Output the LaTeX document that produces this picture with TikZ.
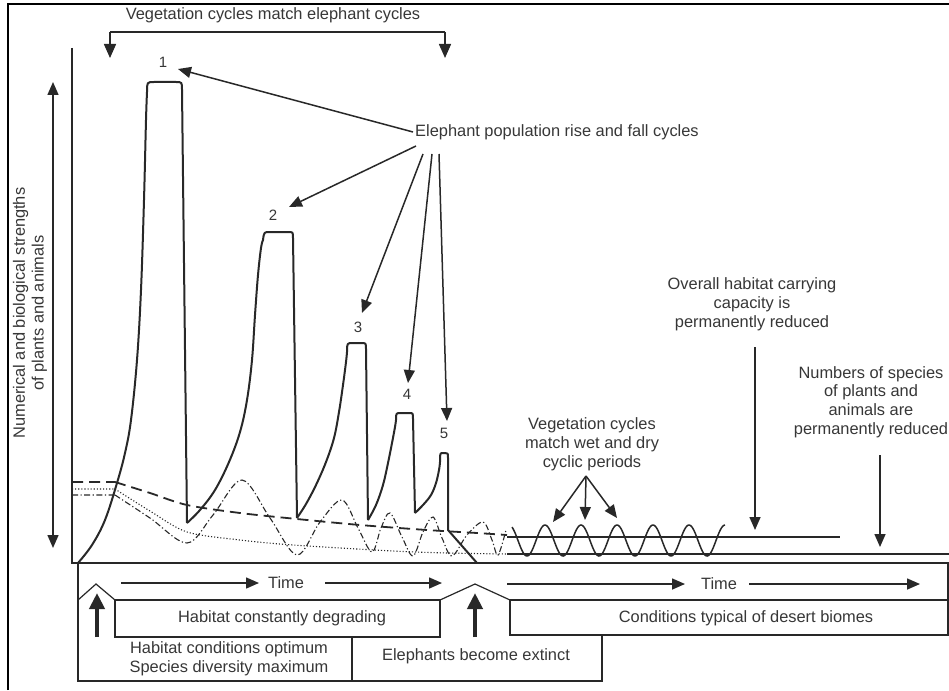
\documentclass[tikz,border=0pt]{standalone}
\usepackage{fontspec}
\setmainfont{Liberation Sans}
\usetikzlibrary{arrows.meta}
\definecolor{ink}{RGB}{40,40,40}
\definecolor{txt}{RGB}{55,55,55}
\begin{document}
\begin{tikzpicture}[x=1pt,y=-1pt,
  lbl/.style={font=\fontsize{16.4}{18.8}\selectfont, text=txt, inner sep=0pt, align=center},
  num/.style={font=\fontsize{15}{18}\selectfont, text=txt, inner sep=0pt},
  curve/.style={draw=ink, line width=2pt, line join=round},
  arr/.style={draw=ink, line width=1.5pt, -{Triangle[length=13pt,width=11pt]}},
  brk/.style={draw=ink, line width=1.5pt},
  boxline/.style={draw=ink, line width=1.2pt},
  bigarr/.style={draw=ink, line width=4pt, -{Triangle[length=16pt,width=15pt]}},
]
\useasboundingbox (0,0) rectangle (949,690);
\fill[white] (0,0) rectangle (949,690);
% scan frame
\draw[black, line width=2pt] (8,690) -- (8,4) -- (949,4);

% top bracket
\node[lbl] (vct) at (273,15) {Vegetation cycles match elephant cycles};
\coordinate (bl) at (110,32);
\coordinate (br) at (445,32);
\coordinate (blt) at (110,58);
\coordinate (brt) at (445,58);
\draw[brk] (bl) -- (br);
\draw[brk, -{Triangle[length=14pt,width=12pt]}] (bl) -- (blt);
\draw[brk, -{Triangle[length=14pt,width=12pt]}] (br) -- (brt);

% axes
\coordinate (ytop) at (72,48);
\coordinate (orig) at (72,563);
\coordinate (xend) at (949,563);
\draw[ink, line width=1.8pt] (ytop) -- (orig) -- (xend);
\coordinate (ya) at (53,82);
\coordinate (yb) at (53,548);
\draw[ink, line width=1.4pt, {Triangle[length=13pt,width=11pt]}-{Triangle[length=13pt,width=11pt]}] (ya) -- (yb);
\node[lbl, rotate=90] (ylab) at (30,313) {Numerical and biological strengths\\of plants and animals};

% elephant peaks
\draw[curve] plot[smooth, tension=0.6] coordinates {(78,563) (92,545) (105,520) (117,483) (125,453) (131,420) (137,360) (141,290) (144,200) (146,120) (147,92)}
  .. controls (147,82) .. (154,82) -- (176,82) .. controls (182,82) .. (182,90) -- (187,523);
\draw[curve] plot[smooth, tension=0.6] coordinates {(187,523) (200,510) (215,490) (229,462) (240,432) (247,400) (252,360) (255,315) (258,275) (261,248) (263,240)}
  .. controls (264,232) .. (270,232) -- (288,232) .. controls (293,232) .. (293,238) -- (297,518);
\draw[curve] plot[smooth, tension=0.6] coordinates {(297,518) (306,504) (316,485) (326,462) (334,438) (339,412) (343,385) (346,362) (347,352)}
  .. controls (347,343) .. (353,343) -- (361,343) .. controls (366,343) .. (366,349) -- (368,520);
\draw[curve] plot[smooth, tension=0.6] coordinates {(368,520) (376,505) (383,485) (388,463) (392,443) (395,427) (396,420)}
  .. controls (396,413) .. (401,413) -- (409,413) .. controls (413,413) .. (413,419) -- (415,513);
\draw[curve] plot[smooth, tension=0.6] coordinates {(415,513) (423,505) (431,495) (436,483) (439,470) (440,462)}
  .. controls (440,453) .. (443,453) -- (445,453) .. controls (448,453) .. (448,458) -- (448,530) -- (477,563);

% carrying capacity (dashed) then solid
\draw[ink, line width=1.8pt, dash pattern=on 11pt off 6pt] (72,482) -- (115,482) plot[smooth, tension=0.5] coordinates {(115,482) (150,493) (187,505) (240,513) (297,519) (360,525) (427,530) (477,533) (507,535)};
\draw[ink, line width=1.5pt] (507,537) -- (840,537);
% species diversity (dotted) then solid
\draw[ink, line width=1.1pt, dotted] (72,489) -- (115,489) plot[smooth, tension=0.5] coordinates {(115,489) (150,511) (187,532) (240,540) (293,545) (393,551) (448,553) (507,554)};
\draw[ink, line width=1.5pt] (507,554) -- (949,554);
% vegetation (dash-dot)
\draw[ink, line width=1.1pt, dash pattern=on 6pt off 2.5pt on 1.2pt off 2.5pt] (72,495) -- (115,495) plot[smooth, tension=0.55] coordinates {(115,495) (150,518) (187,543) (213,515) (242,480) (270,518) (297,555) (320,522) (342,500) (358,528) (372,552) (381,528) (390,513) (402,537) (413,556) (423,532) (433,517) (442,538) (452,556) (467,535) (483,522) (492,540) (498,555) (506,530)};
% vegetation matches wet/dry cycles
\draw[ink, line width=1.5pt, domain=512:725, samples=180, smooth] plot (\x, {540.5+15.5*cos(10*(\x-527))});

% elephant label and arrows
\node[lbl, anchor=west] (epl) at (415,132) {Elephant population rise and fall cycles};
\node[num] (n1) at (163,62) {1};
\node[num] (n2) at (273,215) {2};
\node[num] (n3) at (358,327) {3};
\node[num] (n4) at (407,394) {4};
\node[num] (n5) at (444,433) {5};
\coordinate (s1) at (413,132);
\coordinate (s2) at (416,146);
\coordinate (s3) at (423,154);
\coordinate (s4) at (432,154);
\coordinate (s5) at (439,154);
\coordinate (t1) at (178,69);
\coordinate (t2) at (289,207);
\coordinate (t3) at (362,313);
\coordinate (t4) at (408,383);
\coordinate (t5) at (447,421);
\draw[arr] (s1) -- (t1);
\draw[arr] (s2) -- (t2);
\draw[arr] (s3) -- (t3);
\draw[arr] (s4) -- (t4);
\draw[arr] (s5) -- (t5);

% right labels
\node[lbl] (vwd) at (592,444) {Vegetation cycles\\match wet and dry\\cyclic periods};
\coordinate (va) at (586,476);
\coordinate (v1) at (553,522);
\coordinate (v2) at (585,520);
\coordinate (v3) at (617,518);
\draw[arr] (va) -- (v1);
\draw[arr] (va) -- (v2);
\draw[arr] (va) -- (v3);

\node[lbl] (ohc) at (752,304) {Overall habitat carrying\\capacity is\\permanently reduced};
\coordinate (oa) at (755,347);
\coordinate (ob) at (755,530);
\draw[arr] (oa) -- (ob);

\node[lbl] (nsp) at (871,402) {Numbers of species\\of plants and\\animals are\\permanently reduced};
\coordinate (na) at (880,455);
\coordinate (nb) at (880,547);
\draw[arr] (na) -- (nb);

% bottom time strip and boxes
\draw[boxline] (78,563) -- (78,681) -- (602,681) -- (602,635);
\draw[boxline] (352,637) -- (352,681);
\draw[boxline] (78,600) -- (96,584) -- (115,600);
\draw[boxline] (115,600) rectangle (440,637);
\draw[boxline] (440,600) -- (475,584) -- (510,600);
\draw[boxline] (949,600) -- (510,600) -- (510,635) -- (948,635) -- (948,563);

\draw[bigarr] (97,637) -- (97,593);
\draw[bigarr] (475,637) -- (475,593);

\node[lbl] (tm1) at (286,583) {Time};
\coordinate (a1) at (121,583);
\coordinate (a2) at (259,583);
\coordinate (a3) at (325,583);
\coordinate (a4) at (442,583);
\draw[arr] (a1) -- (a2);
\draw[arr] (a3) -- (a4);
\node[lbl] (tm2) at (719,584) {Time};
\coordinate (b1) at (507,584);
\coordinate (b2) at (685,584);
\coordinate (b3) at (749,584);
\coordinate (b4) at (920,584);
\draw[arr] (b1) -- (b2);
\draw[arr] (b3) -- (b4);

\node[lbl] (hcd) at (282,618) {Habitat constantly degrading};
\node[lbl] (hco) at (229,659) {Habitat conditions optimum\\Species diversity maximum};
\node[lbl] (ebe) at (476,656) {Elephants become extinct};
\node[lbl] (ctd) at (746,618) {Conditions typical of desert biomes};
\end{tikzpicture}
\end{document}
